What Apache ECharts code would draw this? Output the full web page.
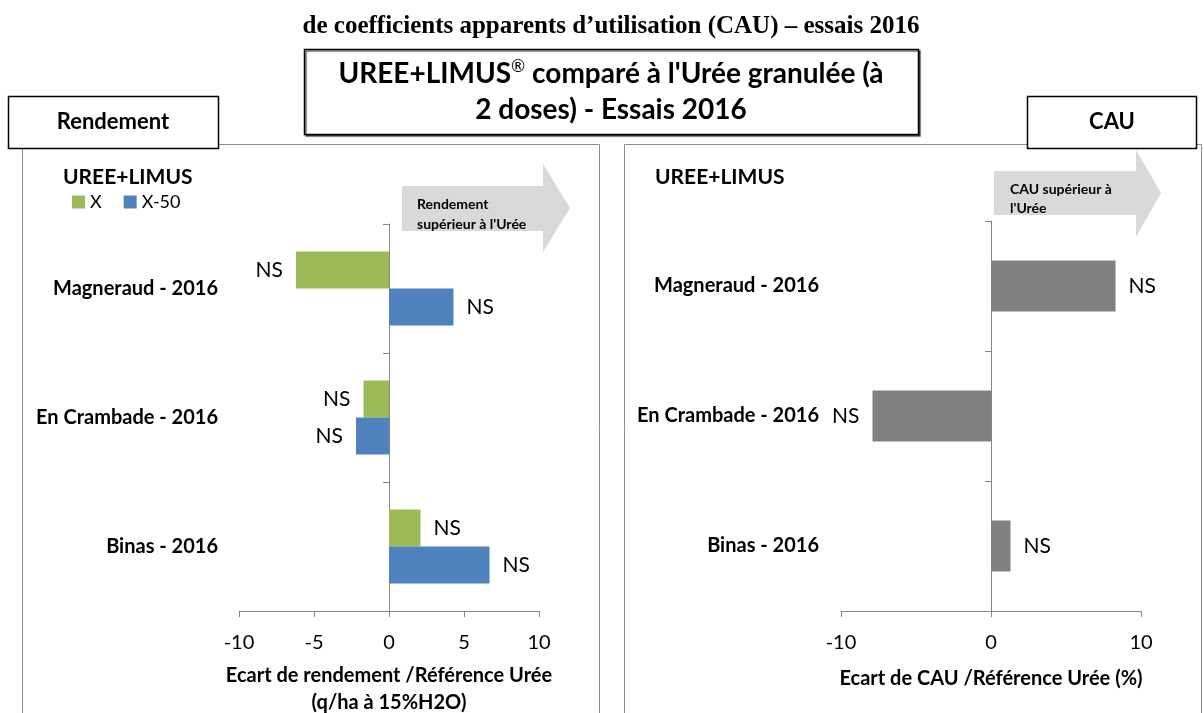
<!DOCTYPE html>
<html>
<head>
<meta charset="utf-8">
<script src="https://cdn.jsdelivr.net/npm/echarts@6/dist/echarts.min.js"></script>
<style>html,body{margin:0;padding:0;background:#fff;}#c{width:1204px;height:713px;}</style>
</head>
<body>
<div id="c"></div>
<script>
const categories = ['Magneraud - 2016', 'En Crambade - 2016', 'Binas - 2016'];
const rendX = [-6.2, -1.7, 2.1];
const rendX50 = [4.3, -2.2, 6.7];
const cauX = [8.3, -7.9, 1.3];
const sigLabels = ['NS', 'NS', 'NS'];
const rendAxis = { min: -10, max: 10, interval: 5 };
const cauAxis = { min: -10, max: 10, interval: 10 };

const FF = 'Lato, "Open Sans", sans-serif';
const axisColor = '#868686';

function barData(vals) {
  return vals.map((v, i) => ({
    value: v,
    label: { position: v < 0 ? 'left' : 'right', formatter: sigLabels[i] }
  }));
}

function xAxisCfg(grid, ax, name, gap, lh) {
  return {
    gridIndex: grid, type: 'value', min: ax.min, max: ax.max, interval: ax.interval,
    axisLine: { show: true, onZero: false, lineStyle: { color: axisColor, width: 1 } },
    axisTick: { show: true, length: 6, lineStyle: { color: axisColor } },
    splitLine: { show: false },
    axisLabel: { color: '#000', fontSize: 20, fontFamily: FF, margin: 22 },
    name: name, nameLocation: 'middle', nameGap: gap,
    nameTextStyle: { color: '#000', fontSize: 20, fontWeight: 'bold', fontFamily: FF, lineHeight: lh }
  };
}
function yAxisCfg(grid, margin) {
  return {
    gridIndex: grid, type: 'category', data: categories, inverse: true,
    axisLine: { show: true, onZero: true, lineStyle: { color: axisColor, width: 1 } },
    axisTick: { show: true, length: 6, lineStyle: { color: axisColor } },
    axisLabel: { color: '#000', fontSize: 20, fontWeight: 'bold', fontFamily: FF, margin: margin }
  };
}
const labelStyle = { show: true, color: '#000', fontSize: 21, fontFamily: FF, distance: 13 };

const chart = echarts.init(document.getElementById('c'), null, { renderer: 'canvas' });
chart.setOption({
  animation: false,
  backgroundColor: '#fff',
  grid: [
    { left: 239, top: 224, width: 300, height: 387, outerBoundsMode: 'none', containLabel: false },
    { left: 841, top: 221, width: 300, height: 390, outerBoundsMode: 'none', containLabel: false }
  ],
  legend: {
    data: ['X', 'X-50'], left: 67, top: 188, icon: 'rect', itemWidth: 13, itemHeight: 13,
    itemGap: 22, textStyle: { color: '#000', fontSize: 18, fontFamily: FF }
  },
  xAxis: [
    xAxisCfg(0, rendAxis, 'Ecart de rendement /Référence Urée\n(q/ha à 15%H2O)', 51, 27),
    xAxisCfg(1, cauAxis, 'Ecart de CAU /Référence Urée (%)', 57, 22)
  ],
  yAxis: [yAxisCfg(0, 21), yAxisCfg(1, 22)],
  series: [
    { name: 'X', type: 'bar', xAxisIndex: 0, yAxisIndex: 0, barWidth: 37, barGap: '0%',
      itemStyle: { color: '#9BBB59' }, label: labelStyle, data: barData(rendX) },
    { name: 'X-50', type: 'bar', xAxisIndex: 0, yAxisIndex: 0, barWidth: 37, barGap: '0%',
      itemStyle: { color: '#4F81BD' }, label: labelStyle, data: barData(rendX50) },
    { name: 'CAU', type: 'bar', xAxisIndex: 1, yAxisIndex: 1, barWidth: 51,
      itemStyle: { color: '#808080' }, label: labelStyle, data: barData(cauX) }
  ],
  graphic: [
    { type: 'rect', z: 0, silent: true, shape: { x: 22.5, y: 144.5, width: 577, height: 620 },
      style: { fill: 'none', stroke: '#8c8c8c', lineWidth: 1 } },
    { type: 'rect', z: 0, silent: true, shape: { x: 624.5, y: 144.5, width: 577, height: 620 },
      style: { fill: 'none', stroke: '#8c8c8c', lineWidth: 1 } },
    { type: 'text', z: 10, style: { x: 611, y: 27, text: 'de coefficients apparents d’utilisation (CAU) – essais 2016',
      fill: '#000', font: 'bold 25px "Liberation Serif", "Times New Roman", serif', textAlign: 'center', textVerticalAlign: 'middle' } },
    { type: 'rect', z: 10, shape: { x: 304.5, y: 49.5, width: 614, height: 85 },
      style: { fill: '#fff', stroke: '#000', lineWidth: 1.5, shadowColor: 'rgba(0,0,0,0.6)', shadowOffsetX: 1.5, shadowOffsetY: 1.5, shadowBlur: 1 } },
    { type: 'text', z: 11, style: { x: 611, y: 74, text: '{a|UREE+LIMUS}{s|®}{a| comparé à l\'Urée granulée (à}',
      textAlign: 'center', textVerticalAlign: 'middle',
      rich: { a: { fontFamily: FF, fontWeight: 'bold', fontSize: 28, fill: '#000' },
              s: { fontFamily: FF, fontWeight: 'normal', fontSize: 17, fill: '#000', padding: [0, 0, 14, 0] } } } },
    { type: 'text', z: 11, style: { x: 611, y: 110, text: '2 doses) - Essais 2016', fill: '#000',
      font: 'bold 28px ' + FF, textAlign: 'center', textVerticalAlign: 'middle' } },
    { type: 'rect', z: 10, shape: { x: 8.5, y: 96.5, width: 210, height: 52 },
      style: { fill: '#fff', stroke: '#000', lineWidth: 1.5 } },
    { type: 'text', z: 11, style: { x: 113, y: 122, text: 'Rendement', fill: '#000',
      font: 'bold 22px ' + FF, textAlign: 'center', textVerticalAlign: 'middle' } },
    { type: 'rect', z: 10, shape: { x: 1027.5, y: 96.5, width: 169, height: 52 },
      style: { fill: '#fff', stroke: '#000', lineWidth: 1.5 } },
    { type: 'text', z: 11, style: { x: 1112, y: 122, text: 'CAU', fill: '#000',
      font: 'bold 22px ' + FF, textAlign: 'center', textVerticalAlign: 'middle' } },
    { type: 'polygon', z: 1, silent: true, shape: { points: [[402,186],[543,186],[543,164],[570,208],[543,252],[543,231],[402,231]] },
      style: { fill: '#D9D9D9' } },
    { type: 'text', z: 2, style: { x: 417, y: 204, text: 'Rendement', fill: '#000',
      font: 'bold 14px ' + FF, textAlign: 'left', textVerticalAlign: 'middle' } },
    { type: 'text', z: 2, style: { x: 417, y: 224, text: 'supérieur à l\'Urée', fill: '#000',
      font: 'bold 14px ' + FF, textAlign: 'left', textVerticalAlign: 'middle' } },
    { type: 'polygon', z: 1, silent: true, shape: { points: [[994,171],[1136,171],[1136,150],[1161,193],[1136,237],[1136,215],[994,215]] },
      style: { fill: '#D9D9D9' } },
    { type: 'text', z: 2, style: { x: 1010, y: 189, text: 'CAU supérieur à', fill: '#000',
      font: 'bold 14px ' + FF, textAlign: 'left', textVerticalAlign: 'middle' } },
    { type: 'text', z: 2, style: { x: 1010, y: 208, text: 'l\'Urée', fill: '#000',
      font: 'bold 14px ' + FF, textAlign: 'left', textVerticalAlign: 'middle' } },
    { type: 'text', z: 2, style: { x: 63, y: 177, text: 'UREE+LIMUS', fill: '#000',
      font: 'bold 21px ' + FF, textAlign: 'left', textVerticalAlign: 'middle' } },
    { type: 'text', z: 2, style: { x: 655, y: 177, text: 'UREE+LIMUS', fill: '#000',
      font: 'bold 21px ' + FF, textAlign: 'left', textVerticalAlign: 'middle' } }
  ]
});
</script>
</body>
</html>
